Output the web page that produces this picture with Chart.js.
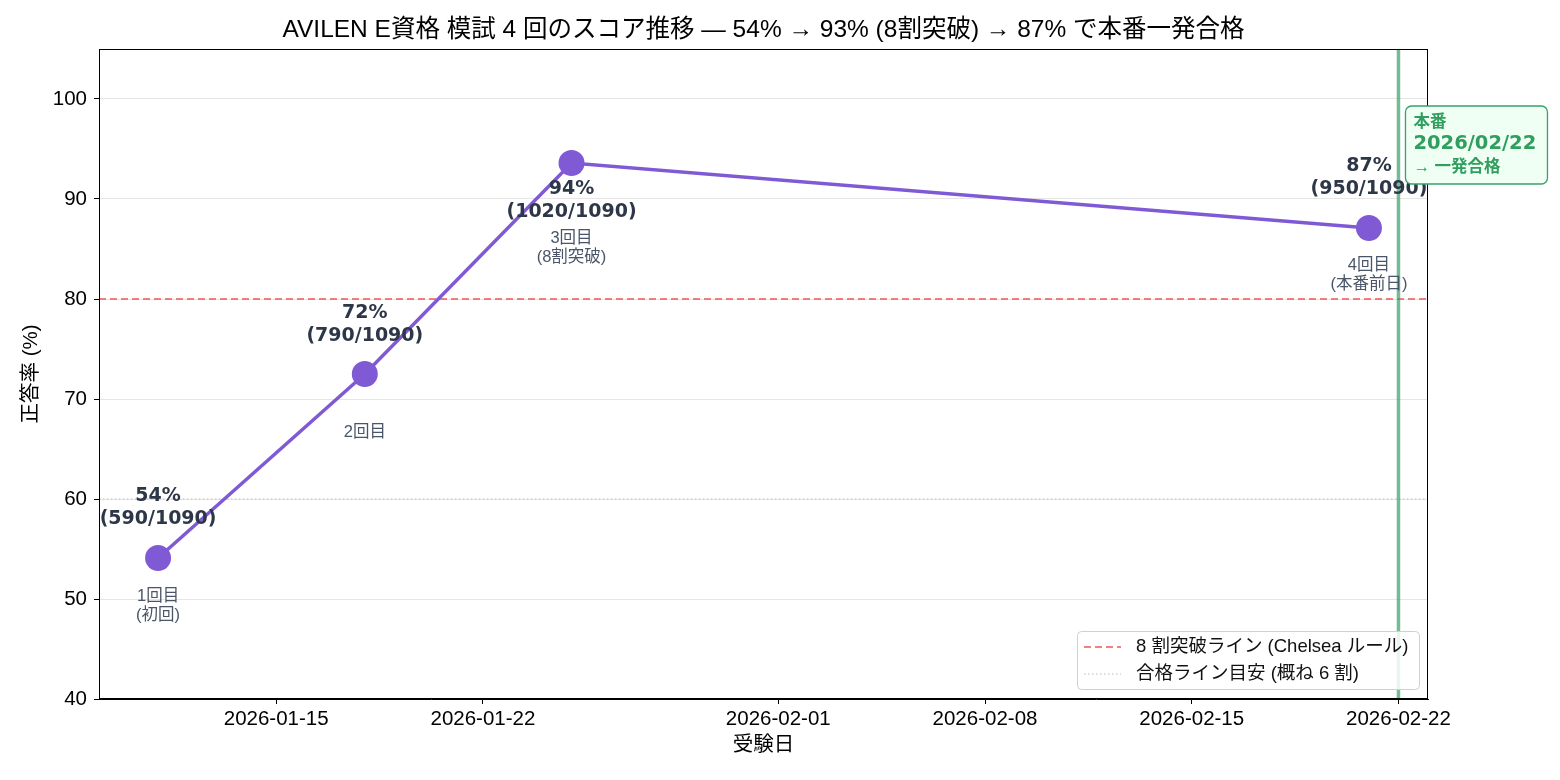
<!DOCTYPE html>
<html>
<head>
<meta charset="utf-8">
<script src="https://cdn.jsdelivr.net/npm/chart.js@4"></script>
<style>
  html, body { margin: 0; padding: 0; background: #fff; }
  #wrap { width: 1560px; height: 780px; }
</style>
</head>
<body>
<div id="wrap"><canvas id="chart" width="1560" height="780"></canvas></div>
<script>
// data
const examDates = ['2026-01-11', '2026-01-18', '2026-01-25', '2026-02-21']
const scores = [54.1, 72.5, 93.6, 87.1]
const scoreLabels = [['54%', '(590/1090)'], ['72%', '(790/1090)'], ['94%', '(1020/1090)'], ['87%', '(950/1090)']]
const roundLabels = [['1回目', '(初回)'], ['2回目'], ['3回目', '(8割突破)'], ['4回目', '(本番前日)']]
const xTickDates = ['2026-01-15', '2026-01-22', '2026-02-01', '2026-02-08', '2026-02-15', '2026-02-22']
const yTicks = [40, 50, 60, 70, 80, 90, 100]
const xRange = ['2026-01-09', '2026-02-23']
const yRange = [40, 105]
const breakLine = 80
const passLine = 60
const honbanDate = '2026-02-22'
const honbanText = ['本番', '2026/02/22', '→ 一発合格']
const legendLabels = ['8 割突破ライン (Chelsea ルール)', '合格ライン目安 (概ね 6 割)']

const FONT = "'Liberation Sans', 'Noto Sans CJK JP', sans-serif"
const BOLD_FONT = "'DejaVu Sans', 'Noto Sans CJK JP', sans-serif"
const PURPLE = '#805ad5'
const RED = 'rgba(240, 96, 96, 0.8)'
const GRAY = '#bbbbbb'
const GREEN = 'rgba(56, 161, 105, 0.7)'

function dayOf(s) {
    const p = s.split('-')
    return (Date.UTC(+p[0], +p[1] - 1, +p[2]) - Date.UTC(2026, 0, 1)) / 86400000
}
const dayLabel = {}
xTickDates.forEach(d => { dayLabel[dayOf(d)] = d })

const xMin = dayOf(xRange[0])
const xMax = dayOf(xRange[1])

// label offsets in px from each point (first line centre)
const boldOffset = [-62, -61, 26, -62]
const subOffset = [38, 58, 75, 37]

const labelPlugin = {
    id: 'labels',
    afterDatasetsDraw(chart) {
        const ctx = chart.ctx
        const xs = chart.scales.x, ys = chart.scales.y
        ctx.save()
        ctx.textAlign = 'center'
        ctx.textBaseline = 'middle'
        for (let i = 0; i < scores.length; i++) {
            const px = xs.getPixelForValue(dayOf(examDates[i]))
            const py = ys.getPixelForValue(scores[i])
            ctx.fillStyle = '#2d3748'
            ctx.font = 'bold 19px ' + BOLD_FONT
            scoreLabels[i].forEach((t, j) => ctx.fillText(t, px, py + boldOffset[i] + j * 23))
            ctx.fillStyle = '#4a5568'
            ctx.font = '16.5px ' + FONT
            roundLabels[i].forEach((t, j) => ctx.fillText(t, px, py + subOffset[i] + j * 19))
        }
        ctx.restore()
    },
    afterDraw(chart) {
        const ctx = chart.ctx
        const a = chart.chartArea
        const xs = chart.scales.x
        ctx.save()
        // frame
        ctx.strokeStyle = '#000'
        ctx.lineWidth = 1
        ctx.strokeRect(a.left + 0.5, a.top + 0.5, a.right - a.left - 1, a.bottom - a.top - 1)

        // honban box
        const bx = xs.getPixelForValue(dayOf(honbanDate)) + 7
        const by = a.top + 57
        const bw = 142, bh = 78
        ctx.beginPath()
        ctx.roundRect(bx, by, bw, bh, 6)
        ctx.fillStyle = '#f0fff4'
        ctx.fill()
        ctx.strokeStyle = '#38a169'
        ctx.lineWidth = 1.3
        ctx.stroke()
        ctx.fillStyle = '#2f9e5e'
        ctx.textAlign = 'left'
        ctx.textBaseline = 'middle'
        ctx.font = 'bold 16.5px ' + FONT
        ctx.fillText(honbanText[0], bx + 8, by + 16)
        ctx.font = 'bold 19.5px ' + BOLD_FONT
        ctx.fillText(honbanText[1], bx + 8, by + 38)
        ctx.font = 'bold 16.5px ' + FONT
        ctx.fillText(honbanText[2], bx + 8, by + 61)

        // legend
        const lw = 342, lh = 58
        const lx = a.right - 9 - lw
        const ly = a.bottom - 10 - lh
        ctx.beginPath()
        ctx.roundRect(lx + 0.5, ly + 0.5, lw, lh, 4)
        ctx.fillStyle = 'rgba(255,255,255,0.85)'
        ctx.fill()
        ctx.strokeStyle = '#d0d0d0'
        ctx.lineWidth = 1
        ctx.stroke()
        const styles = [
            { color: RED, dash: [7, 4], width: 2 },
            { color: GRAY, dash: [1.5, 2.5], width: 1 }
        ]
        legendLabels.forEach((t, i) => {
            const yy = ly + 16 + i * 27
            ctx.beginPath()
            ctx.setLineDash(styles[i].dash)
            ctx.strokeStyle = styles[i].color
            ctx.lineWidth = styles[i].width
            ctx.moveTo(lx + 7, yy)
            ctx.lineTo(lx + 44, yy)
            ctx.stroke()
            ctx.setLineDash([])
            ctx.fillStyle = '#111'
            ctx.font = '18.5px ' + FONT
            ctx.textAlign = 'left'
            ctx.textBaseline = 'middle'
            ctx.fillText(t, lx + 59, yy)
        })
        ctx.restore()
    }
}

const chart = new Chart(document.getElementById('chart'), {
    type: 'line',
    data: {
        datasets: [
            {
                label: 'score',
                data: examDates.map((d, i) => ({ x: dayOf(d), y: scores[i] })),
                borderColor: PURPLE,
                backgroundColor: PURPLE,
                borderWidth: 3.5,
                pointRadius: 13,
                pointBorderWidth: 0,
                pointBackgroundColor: PURPLE,
                order: 0
            },
            {
                label: legendLabels[0],
                data: [{ x: xMin, y: breakLine }, { x: xMax, y: breakLine }],
                borderColor: RED,
                borderDash: [7, 4],
                borderWidth: 2,
                pointRadius: 0,
                order: 2
            },
            {
                label: legendLabels[1],
                data: [{ x: xMin, y: passLine }, { x: xMax, y: passLine }],
                borderColor: GRAY,
                borderDash: [1.5, 2.5],
                borderWidth: 1,
                pointRadius: 0,
                order: 3
            },
            {
                label: 'honban',
                data: [{ x: dayOf(honbanDate), y: yRange[0] }, { x: dayOf(honbanDate), y: yRange[1] }],
                borderColor: GREEN,
                borderWidth: 3.5,
                pointRadius: 0,
                order: 1
            }
        ]
    },
    options: {
        responsive: false,
        animation: false,
        layout: { padding: { left: 0, right: 132, top: 0, bottom: 0 } },
        plugins: {
            legend: { display: false },
            tooltip: { enabled: false },
            title: {
                display: true,
                fullSize: false,
                text: 'AVILEN E資格 模試 4 回のスコア推移 — 54% → 93% (8割突破) → 87% で本番一発合格',
                color: '#000',
                font: { family: FONT, size: 24.5, weight: 'normal' },
                padding: { top: 16, bottom: 3.6 }
            }
        },
        scales: {
            x: {
                type: 'linear',
                min: xMin,
                max: xMax,
                afterBuildTicks: s => { s.ticks = xTickDates.map(d => ({ value: dayOf(d) })) },
                afterFit: s => { s.height = 81 },
                ticks: {
                    callback: v => dayLabel[v],
                    color: '#000',
                    font: { family: FONT, size: 20.5 },
                    padding: 3,
                    maxRotation: 0
                },
                grid: { drawOnChartArea: false, tickLength: 5, tickColor: '#000' },
                border: { color: '#000' },
                title: {
                    display: true,
                    text: '受験日',
                    color: '#000',
                    font: { family: FONT, size: 20.5 },
                    padding: { top: 0, bottom: 22.5 }
                }
            },
            y: {
                min: yRange[0],
                max: yRange[1],
                afterBuildTicks: s => { s.ticks = yTicks.map(v => ({ value: v })) },
                afterFit: s => { s.width = 99 },
                ticks: {
                    color: '#000',
                    font: { family: FONT, size: 20.5 },
                    padding: 7
                },
                grid: { color: '#e6e6e6', tickLength: 5, tickColor: '#000' },
                border: { color: '#000' },
                title: {
                    display: true,
                    text: '正答率 (%)',
                    color: '#000',
                    font: { family: FONT, size: 20.5 },
                    padding: { top: 19.5, bottom: 0 }
                }
            }
        }
    },
    plugins: [labelPlugin]
})
</script>
</body>
</html>
